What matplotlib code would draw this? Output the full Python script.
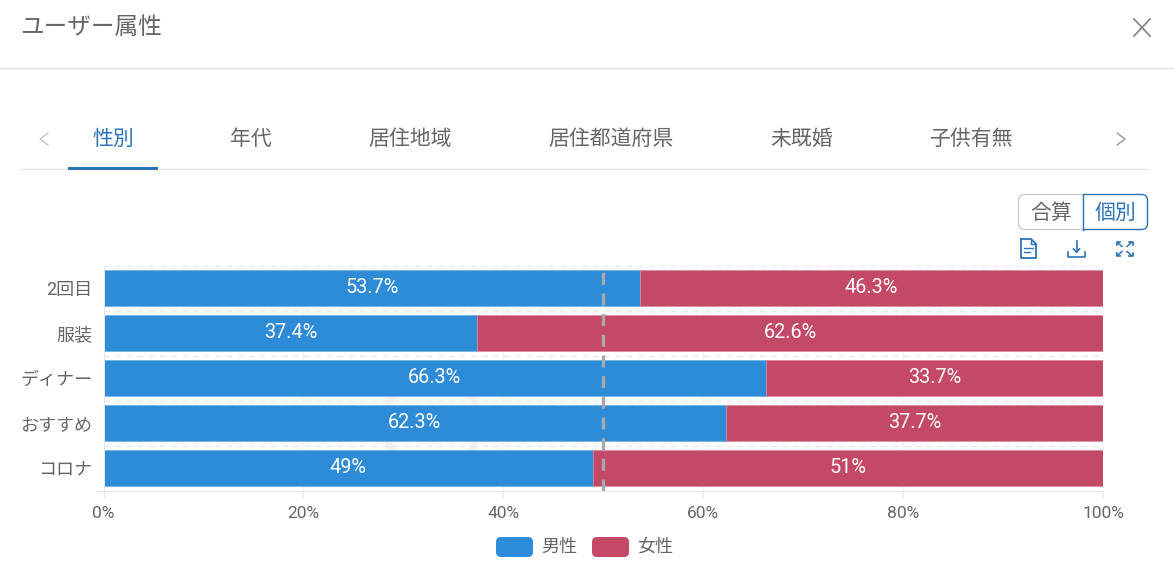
import matplotlib
matplotlib.use("Agg")
import matplotlib.pyplot as plt
from matplotlib.patches import Circle, FancyBboxPatch, Rectangle

plt.rcParams["font.family"] = ["Roboto", "Noto Sans CJK JP", "DejaVu Sans"]

W, H = 1174, 579
BLUE = "#2d8bd7"
RED = "#c34966"
TAB_BLUE = "#2b73b6"
TEXT = "#666666"
LINE = "#e6e6e6"

categories = ["2回目", "服装", "ディナー", "おすすめ", "コロナ"]
male = [53.7, 37.4, 66.3, 62.3, 49]
female = [46.3, 62.6, 33.7, 37.7, 51]
series_names = ["男性", "女性"]
xticks = [0, 20, 40, 60, 80, 100]
tabs = ["性別", "年代", "居住地域", "居住都道府県", "未既婚", "子供有無"]
tab_x = [113, 251, 410, 611, 802, 971]


def fmt(v):
    return f"{v:g}%"


fig = plt.figure(figsize=(W / 100, H / 100), dpi=100, facecolor="white")

# page furniture, drawn in pixel coordinates
ui = fig.add_axes([0, 0, 1, 1])
ui.set_xlim(0, W)
ui.set_ylim(H, 0)
ui.axis("off")

ui.text(20.5, 27.5, "ユーザー属性", fontsize=17, color=TEXT, va="center")
ui.plot([1134, 1150], [19, 36], color="#888888", lw=1.3)
ui.plot([1134, 1150], [36, 19], color="#888888", lw=1.3)
ui.plot([0, W], [68, 68], color=LINE, lw=1)

ui.plot([20, 1148], [169, 169], color=LINE, lw=1)
ui.add_patch(Rectangle((68, 167), 90, 3, color=TAB_BLUE, lw=0, zorder=3))
for i, (tab, x) in enumerate(zip(tabs, tab_x)):
    ui.text(x, 139.5, tab, fontsize=15, ha="center", va="center",
            color=TAB_BLUE if i == 0 else TEXT)
ui.plot([48, 40, 48], [133, 139, 145], color="#c8c8c8", lw=1)
ui.plot([1117, 1125, 1117], [133, 139, 145], color="#999999", lw=1)

# 合算 / 個別 toggle
ui.add_patch(FancyBboxPatch((1018.5, 194.5), 70, 35, boxstyle="round,pad=0,rounding_size=6",
                            fc="white", ec="#cccccc", lw=1))
right_btn = FancyBboxPatch((1070, 194.5), 77.5, 35, boxstyle="round,pad=0,rounding_size=6",
                           fc="white", ec=TAB_BLUE, lw=1, zorder=3)
ui.add_patch(right_btn)
right_btn.set_clip_path(Rectangle((1083, 190), 70, 45, transform=ui.transData))
ui.plot([1083, 1083], [194.5, 229.5], color=TAB_BLUE, lw=1, zorder=4)
ui.text(1051, 213, "合算", fontsize=15, color=TEXT, ha="center", va="center", zorder=5)
ui.text(1115, 213, "個別", fontsize=15, color=TAB_BLUE, ha="center", va="center", zorder=5)

# toolbar icons
ui.plot([1021, 1021, 1036, 1036, 1031, 1021], [239, 258, 258, 244, 239, 239],
        color=TAB_BLUE, lw=1.3)
ui.plot([1031, 1031, 1036], [239, 244, 244], color=TAB_BLUE, lw=1)
ui.plot([1024, 1033], [248, 248], color=TAB_BLUE, lw=1)
ui.plot([1024, 1030], [252, 252], color=TAB_BLUE, lw=1)
ui.plot([1068, 1068, 1085, 1085], [252, 256.5, 256.5, 252], color=TAB_BLUE, lw=1.2)
ui.plot([1076.5, 1076.5], [241, 252], color=TAB_BLUE, lw=1.2)
ui.plot([1073.5, 1076.5, 1079.5], [249, 252, 249], color=TAB_BLUE, lw=1.2)
for sx, sy in [(-1, -1), (1, -1), (-1, 1), (1, 1)]:
    cx, cy = 1124.5, 249
    ui.plot([cx + sx * 2.5, cx + sx * 7], [cy + sy * 2.5, cy + sy * 6.5], color=TAB_BLUE, lw=1.1)
    ui.plot([cx + sx * 4.5, cx + sx * 8, cx + sx * 8], [cy + sy * 7, cy + sy * 7, cy + sy * 4],
            color=TAB_BLUE, lw=1.2)

# faint watermark behind the bars
ui.add_patch(Circle((432, 423), 48, fc="none", ec="#f1f1f1", lw=5))

# chart
ax = fig.add_axes([103.5 / W, 1 - 490.5 / H, 999.5 / W, 225 / H])
ax.set_facecolor("none")
y = range(len(categories))
ax.barh(y, male, height=0.8, color=BLUE, edgecolor="#6fb0e4", linewidth=0.5, zorder=2)
ax.barh(y, female, left=male, height=0.8, color=RED, edgecolor="#d88a9c", linewidth=0.5, zorder=2)
for i in y:
    ax.text(male[i] / 2, i - 0.02, fmt(male[i]), color="white", fontsize=14.3, ha="center", va="center", zorder=4)
    ax.text(male[i] + female[i] / 2, i - 0.02, fmt(female[i]), color="white", fontsize=14.3,
            ha="center", va="center", zorder=4)

ax.set_xlim(0, 100)
ax.set_ylim(len(categories) - 0.5, -0.5)
ax.axvline(50, color="#a9a9a9", lw=2.4, ls=(0, (3.6, 2.6)), zorder=3)
for edge in [-0.5, 0.5, 1.5, 2.5, 3.5]:
    ax.axhline(edge, color="#e8e8e8", lw=1, ls=(0, (4, 4)), zorder=1)
for tick in xticks[1:-1]:
    ax.axvline(tick, color="#f0f0f0", lw=1, zorder=1)

ax.set_yticks(list(y), categories)
ax.set_xticks(xticks, [fmt(t) for t in xticks])
ax.tick_params(axis="y", length=0, pad=8, labelsize=13, labelcolor=TEXT)
ax.tick_params(axis="x", length=5, color=LINE, pad=6, labelsize=12.5, labelcolor=TEXT)
for side in ["top", "right"]:
    ax.spines[side].set_visible(False)
ax.spines["left"].set_color(LINE)
ax.spines["bottom"].set_color(LINE)
ax.spines["bottom"].set_bounds(-0.7, 100)

# legend
for x0, name, color in zip([496, 592], series_names, [BLUE, RED]):
    ui.add_patch(FancyBboxPatch((x0, 537), 37, 20, boxstyle="round,pad=0,rounding_size=5",
                                fc=color, ec="none"))
    ui.text(x0 + 45, 546.5, name, fontsize=13, color=TEXT, va="center")

fig.savefig("out.png", dpi=100)
